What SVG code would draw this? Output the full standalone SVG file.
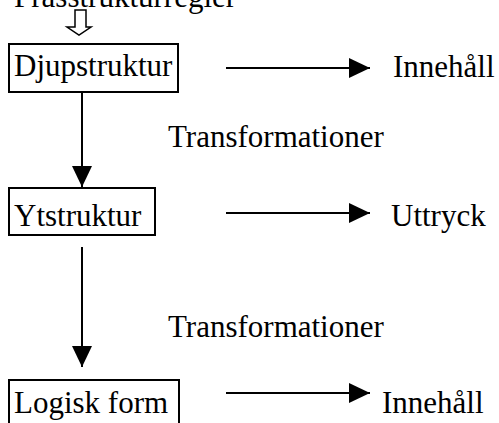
<svg xmlns="http://www.w3.org/2000/svg" width="499" height="423" viewBox="0 0 499 423">
  <style>
    .box { fill: #fff; stroke: #000; stroke-width: 2; }
    .line { stroke: #000; stroke-width: 2; fill: none; }
  </style>
  <defs>
    <marker id="head" viewBox="0 0 21 20" refX="21" refY="10" markerWidth="21" markerHeight="20" markerUnits="userSpaceOnUse" orient="auto">
      <path d="M0,0 L21,10 L0,20 Z" fill="#000"/>
    </marker>
  </defs>
  <rect width="499" height="423" fill="#fff"/>

  <g font-family="Liberation Serif" font-size="31" fill="#000">
    <!-- rule set feeding the deep structure -->
    <g id="frasstrukturregler">
      <text x="14" y="7">Frasstrukturregler</text>
      <polygon points="75,10 86,10 86,27 91,27 79,35 67,27 75,27" fill="#fff" stroke="#000" stroke-width="1.5"/>
    </g>

    <g id="djupstruktur">
      <rect class="box" x="9" y="44" width="169" height="48"/>
      <text x="14" y="76">Djupstruktur</text>
    </g>
    <g id="innehall1">
      <text x="393" y="77">Innehåll</text>
    </g>

    <g id="transformationer1">
      <text x="168" y="147">Transformationer</text>
    </g>

    <g id="ytstruktur">
      <rect class="box" x="9" y="188" width="146" height="47"/>
      <text x="14" y="226">Ytstruktur</text>
    </g>
    <g id="uttryck">
      <text x="391" y="226">Uttryck</text>
    </g>

    <g id="transformationer2">
      <text x="168" y="337">Transformationer</text>
    </g>

    <g id="logisk-form">
      <rect class="box" x="9" y="380" width="170" height="48"/>
      <text x="14" y="413">Logisk form</text>
    </g>
    <g id="innehall2">
      <text x="382" y="413">Innehåll</text>
    </g>
  </g>

  <g id="connectors">
    <line class="line" x1="226" y1="68" x2="370" y2="68" marker-end="url(#head)"/>
    <line class="line" x1="82" y1="92" x2="82" y2="187" marker-end="url(#head)"/>
    <line class="line" x1="226" y1="213" x2="370" y2="213" marker-end="url(#head)"/>
    <line class="line" x1="82" y1="247" x2="82" y2="367" marker-end="url(#head)"/>
    <line class="line" x1="226" y1="393" x2="370" y2="393" marker-end="url(#head)"/>
  </g>
</svg>
